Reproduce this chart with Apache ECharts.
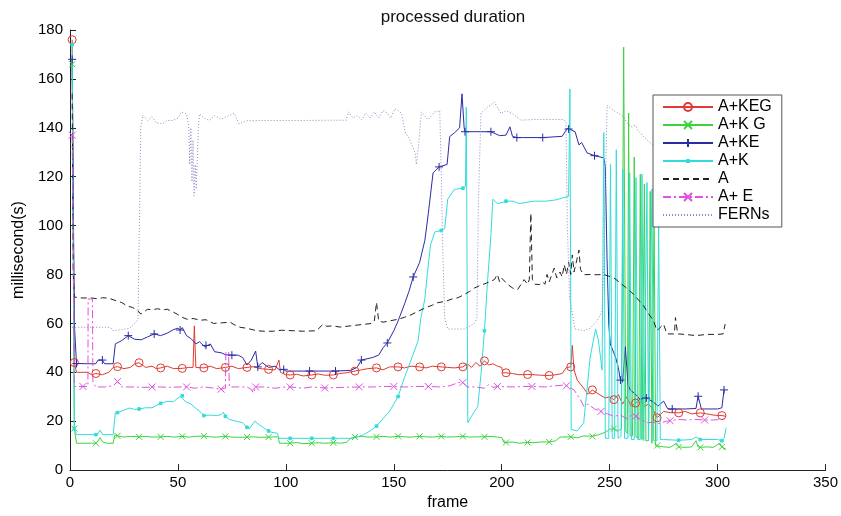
<!DOCTYPE html>
<html>
<head>
<meta charset="utf-8">
<title>processed duration</title>
<script src="https://cdn.jsdelivr.net/npm/echarts@6/dist/echarts.min.js"></script>
<style>
  html, body { margin: 0; padding: 0; background: #fff; }
  #chart { width: 841px; height: 516px; }
</style>
</head>
<body>
<div id="chart"></div>
<script>
// Axis ticks
const xTicks = [0, 50, 100, 150, 200, 250, 300, 350];
const yTicks = [0, 20, 40, 60, 80, 100, 120, 140, 160, 180];

// Series names
const names = ['A+KEG', 'A+K G', 'A+KE', 'A+K', 'A', 'A+ E', 'FERNs'];

// Per-frame processing time, [frame, milliseconds]
const keg = [[1,176],[2,44],[3,40],[8,40],[10,39],[12,39.5],[15,39],[18,40],[20,42],[22,42.3],[25,41.5],[28,42],[30,43.5],[32,43.9],[35,42],[38,42.5],[40,41.5],[42,41.8],[45,42.5],[48,41.5],[52,41.6],[55,42],[57,42],[57.6,59],[58.3,42],[62,41.8],[65,42.5],[68,41.5],[72,42],[75,42.5],[78,41.5],[82,42],[85,42.3],[88,41.5],[92,41.2],[95,41],[96.8,45],[97.5,40],[100,39],[102,38.9],[105,39.2],[108,38.5],[112,38.9],[115,39.3],[118,38.8],[122,38.9],[125,39.5],[128,39.8],[132,40.5],[135,41],[138,41.5],[142,41.8],[145,41],[148,42.2],[152,42.2],[155,41.8],[158,42.5],[162,42.2],[165,41.8],[168,42.5],[172,42.2],[175,42],[178,41.8],[182,42.2],[184,43.5],[186,42],[188,44],[190,42.5],[192,44.7],[194,43],[196,43.5],[198,42.5],[200,42],[200.5,39.8],[202,39.8],[205,39.5],[208,39],[212,39.1],[215,39],[218,38.8],[222,38.7],[225,39],[228,39.5],[230,42],[232,42.2],[232.7,51],[233.5,41],[235,36.8],[238,33.5],[240,31],[242,32.8],[245,31],[248,29.5],[250,30],[252,28.8],[254,31],[256,27],[258,30],[260,26],[262,27.4],[264,29],[266,26],[268,27],[270,25],[272,21.4],[275,24],[278,23.5],[282,23.4],[285,24],[288,23],[292,23.4],[295,23],[298,22.5],[302,22.3],[304,22]];

const kg = [[1,166],[2,17],[3,11],[10,11],[12,11],[13,12],[14,13.3],[15,11.5],[17,11],[20,11],[20.7,14.3],[22,14],[25,13.5],[28,13.8],[32,13.6],[35,13.8],[38,13.5],[42,13.6],[45,13.8],[48,13.5],[52,13.8],[55,13.5],[58,13.8],[62,13.9],[65,13.6],[68,13.5],[72,13.8],[75,13.5],[78,13.4],[82,13.5],[85,13.6],[88,13.4],[92,13.5],[95,13.6],[96.5,13.5],[97,11],[102,11],[105,11.3],[108,10.8],[112,11],[115,11.2],[118,11],[122,11.2],[125,11],[128,11.3],[130,13],[132,13.5],[135,13.8],[138,13.5],[142,13.6],[145,13.8],[148,13.5],[152,13.8],[155,13.6],[158,13.5],[162,13.8],[165,13.6],[168,13.5],[172,13.8],[175,13.5],[178,13.6],[182,13.8],[185,13.5],[188,13.6],[192,13.6],[195,13.8],[198,13.5],[200,13.3],[201,11.3],[202,11.3],[205,11.5],[208,11],[212,11.3],[215,11.2],[218,11.5],[222,11.5],[225,12],[227,13.5],[232,13.6],[235,13.2],[238,14],[242,13.8],[245,14.5],[248,15.5],[250,16.7],[252,17],[254,16],[255.5,17],[256.5,173],[257.5,16],[258.2,15],[258.8,146],[259.5,14],[260.6,14],[261.4,128],[262.2,13.5],[263.5,13],[264.2,121],[265,12.5],[265.4,12.5],[266.1,117],[266.8,12],[268,12],[268.8,114],[269.6,11],[270,11],[270.6,105],[271.3,10],[272,10],[275,9.5],[278,9.3],[281,11],[282,9.5],[285,9.3],[288,9.5],[290,12],[291,9.5],[292,9.3],[295,9.5],[298,9.3],[301,11],[302,9.5],[304,8.5]];

const ke = [[1,168],[2,60],[3,43.6],[8,43.5],[12,43.5],[13,45],[15,45],[16,43.5],[20,43.5],[21,51.6],[24,53],[27,55],[30,53.5],[33,53.3],[36,54.5],[39,55.7],[42,55],[45,56],[48,57.5],[50,58],[51,57.3],[52,58.3],[54,55],[56,53.8],[58.4,51.6],[60,52.5],[62.5,50.3],[63,51],[65,51.6],[67,48.4],[70,48],[72,47.2],[75,47],[78,47],[80,46],[82,43],[84,45],[86,48.7],[87,42.2],[89,44],[92,42],[95,42.5],[97,41],[99,41.2],[100,40.5],[111,40.5],[123,40.5],[130,40.8],[133,42],[135,45],[140,46],[143,47],[145,50],[147,52],[150,57],[152,61],[155,68],[157,73],[159,79],[162,85],[164.4,94],[166,105],[168.2,121.6],[171,124],[174.7,125],[175.9,136.4],[178.2,138],[180.5,140],[181.6,153.9],[182.6,140],[183,138.4],[195,138.4],[199,136.8],[202,137],[203.8,140.4],[205,136.5],[207,136],[210,136],[219,136],[228,136.5],[230.4,139.8],[231,139.5],[234,138.4],[235.8,133],[237,134],[239.6,129.7],[243,128.6],[247.3,127.7],[248,124],[248.8,86.7],[249.6,59.7],[250.3,51.6],[252.7,46.3],[254,42],[255,36.8],[256,36],[257.3,50.4],[258.5,35],[259.5,32.8],[262,31],[264,29],[267,29.5],[270,28],[272.4,26.2],[275,28.2],[277,25],[279,25],[285,25],[290,25.2],[291,30.2],[292.5,25],[300,25],[302,25.5],[303,32.8]];

const k = [[1,174],[2,17],[3,14.5],[12,14.5],[13,15],[14,16.4],[15,14.5],[20,14.5],[21,23.4],[22,23.5],[25,24.5],[27.6,25.4],[30,24.8],[32,25],[35,25.5],[38,25.5],[42,27.3],[45,28.1],[48,28],[50,29.5],[51.4,30.1],[52,30.4],[53.5,28],[56,27],[58,25.5],[60.9,23.4],[62,22.3],[65,22.5],[68,22.3],[70,22.7],[71,23.7],[72,22],[73.9,20.7],[77,20],[80,19.4],[82,17.5],[83,16.8],[85.6,20],[87.6,18.6],[90.6,16.8],[92,16],[93.6,15.4],[96,15.1],[96.8,13],[102,13],[112,13],[122,13],[130,13],[133,13.5],[136,14.5],[139,16],[142,18],[145,21],[148,24],[150,27],[152,30.1],[155,38],[158,45],[161.3,53],[162.5,62],[164.4,70],[165.5,80],[167,92],[169,97.4],[172,98],[173.6,98.7],[175,110.8],[178,114.8],[182,115.3],[183.2,116],[183.6,148.5],[184.3,19.4],[186,22],[188.9,26],[190.5,40],[192,57],[193.5,78],[195,96],[195.9,110.8],[198,109],[200.5,109.5],[202,110],[205.3,110],[208,109],[211.5,109.5],[215,110],[220.7,110],[225,110.5],[228.9,111.5],[231,112],[231.6,155.9],[232.2,16.7],[235,16],[238,19.4],[241,46.3],[243.5,57.7],[244.8,53],[246.5,40.9],[247.3,138],[248,13],[249.6,13],[250.4,125],[251.2,13],[252.3,13],[253.1,131],[253.9,13],[255.3,14],[256.1,123],[256.9,13],[258.5,13],[259.3,121.6],[260.1,12.5],[261.4,12.5],[262.2,119.6],[263,12.5],[264.2,12.5],[265,121],[265.8,12],[266.5,12],[267.3,117.6],[268,12],[268.8,12],[269.6,115],[270.4,12],[271.9,12],[272.7,101],[273.5,12.5],[275,12.5],[282,12.2],[288,12.5],[290,13.5],[292,12.5],[300,12.5],[302,12],[303,13],[304,17.3]];

const a = [[1,154],[1.5,81],[2,70.8],[5,70.4],[10,70.4],[13,70],[15,70.5],[18,70.3],[21.5,69.2],[24,68.5],[26.6,67.1],[29,66.5],[31.3,65.4],[32.8,63.8],[34,64.5],[35.9,65.8],[38,65.5],[40.5,66],[43,65.5],[45,65.8],[47,65],[49.6,63.8],[52,62.5],[54.2,61.7],[57,62],[60.4,61.3],[63,61.5],[66.5,60],[70,60.2],[74.2,60.5],[76,59.5],[78.8,58.4],[82,58],[86.5,57],[90,56.8],[94.2,56.8],[98,57.2],[103.4,57],[108,56.8],[114.2,57],[117.3,59.7],[119,58.8],[121.8,59],[125,58.5],[130,59],[135,59.5],[140,60],[141,61],[142,68.6],[143,61],[145,60.5],[148,61],[152,61.7],[155,62.5],[158,63.5],[161.3,65],[165,66.5],[168,67.5],[170.5,68.5],[174,69],[177,70],[179.7,70.5],[182,71.5],[185,73],[187.4,74.5],[190,75.5],[193,76.5],[196.6,77.9],[198,80],[199,77],[200,78.5],[202.8,75.9],[205,74.5],[207.4,73.9],[209,76],[210.4,77.9],[212,76],[212.8,78],[213.5,105],[214.2,78],[215.5,76],[217.6,75.9],[219,77],[220,76],[221,80],[222,77],[224.3,82.6],[225.5,78.6],[227,81],[228,79],[229,84],[230,80],[231,85],[232,80],[232.7,88],[233.5,81],[234.8,86],[235.8,90],[236.5,82],[238,79.9],[241,80],[244.2,79.9],[247.3,80],[250,79.2],[252,78.6],[255,76.5],[259.6,73.2],[262,71],[265.8,67.1],[268,64],[270.4,61],[271.9,57],[273,58],[275,59.7],[276.5,55.7],[280,55.7],[280.5,62.4],[281.5,55.7],[285,55.5],[290,55],[295,55.5],[300,55.5],[302.6,55.7],[303.5,59.7]];

const ae = [[1,137],[2,34.2],[6,34.2],[8.3,34.2],[8.4,70],[10.4,70],[10.6,36],[12,34],[16,34],[20,34.5],[22,36.2],[24,34],[30,34],[34,33.8],[38,34],[42,34],[46,33.8],[50,34],[54,34],[58,33.5],[62,34],[66,33.6],[70,33.1],[72,33.5],[72.2,48.3],[73.5,48.3],[73.8,34],[78,34],[82,34],[84,33],[85,31.5],[86,34],[90,34],[95,33.5],[100,34],[102,34],[108,33.5],[112,34],[118,33.6],[125,33.8],[134,34],[140,34],[145,34.2],[150,34.2],[155,34],[160,34.2],[166,34.2],[172,34],[176,34.5],[180,35.8],[182,35.8],[184,34],[188,34],[192,33.5],[194,35],[196,33.8],[198,34.2],[205,34],[210,34.2],[214,34.2],[220,34],[225,34.5],[228.9,34.8],[230,34.5],[233.5,32.8],[236.5,28.8],[238,26.1],[240,27],[243,25],[246,24],[249,23],[252,22],[255,22.5],[258,21],[261,23],[262,22],[264,21],[267.3,19.4],[270,19.5],[272.5,19],[276.5,20],[278,20.2],[282,20.7],[286,20.5],[290,20.7],[294,20.5],[298,20.5],[302,20.7],[304,20.7]];

const ferns = [[1,58.4],[5,58.4],[10,58.4],[15,58.4],[18.7,58.4],[20,57],[24,57.5],[27.6,58],[30,60],[31.5,61.7],[32.3,62],[32.8,140.4],[33.8,145.1],[36,143],[38,144.5],[40,142],[43,141.7],[45,143],[47.6,143],[50,144],[51.6,146.5],[54,145.7],[55,141],[55.5,125],[56,140],[56.5,118],[57,135],[57.5,112.2],[58,125],[58.5,115],[59.5,140],[60,145.7],[62,144],[64.5,143],[67,145],[70,143.5],[73.7,145],[76,146],[78.3,141.7],[82,142.9],[90,143],[100,143],[110,143],[120,143.1],[128,143.1],[129,146.5],[131,144],[133,145],[135.2,143.3],[137,146],[139,144],[141,146.5],[143,144],[145,147],[147,146],[148.5,144],[150.5,147.8],[152,147],[153.6,146],[155.2,138.4],[157.4,135],[159.9,129.7],[160.5,125],[161.5,133],[162.8,146.5],[165.9,143.3],[168.9,146.5],[171.3,147],[172,121.6],[172.7,90],[173.6,62],[175,57.7],[177,57.7],[182.8,57.7],[187,59.7],[188.5,62],[189.2,110],[190.4,146],[193.5,148.5],[196.6,150.5],[199.7,145.8],[202,147],[204.9,145.8],[208.9,143.1],[215,143.4],[225,143.4],[228.9,143.4],[229.8,142],[230.4,100],[231.5,70],[234,57.7],[238,57],[241,58],[244.2,61],[246.5,65],[247.5,90],[248.8,149.2],[252,147],[254,146],[256.5,144.5],[258,142],[260,140.4],[262,141],[263,139],[265.8,136.4],[267.3,135],[270,133],[275,130]];

const FONT = '"Liberation Sans", Arial, Helvetica, sans-serif';

// Plot markers every `period` frames, starting at `offset`, plus the first sample.
function markerSize(size, period, offset) {
  return function (val, params) {
    const r = ((val[0] - offset) % period + period) % period;
    return (params.dataIndex === 0 || Math.abs(r) < 1e-6) ? size : 0;
  };
}

function lineSeries(name, data, color, dash, marker) {
  const s = {
    name: name,
    type: 'line',
    data: data,
    showAllSymbol: true,
    lineStyle: { color: color, width: 1, type: dash },
    itemStyle: { color: color, borderColor: color, borderWidth: 1 },
    emphasis: { disabled: true },
    z: 2
  };
  if (marker) {
    s.symbol = marker.symbol;
    s.symbolSize = markerSize(marker.size, marker.period, marker.offset);
    if (marker.hollow) s.itemStyle.color = 'rgba(255,255,255,0)';
  } else {
    s.symbol = 'circle';
    s.showSymbol = false;
  }
  return s;
}

// Marker shapes: open circle, diagonal cross, plus, small dot
const CROSS = 'path://M0,0L10,10M10,0L0,10';
const PLUS = 'path://M5,0L5,10M0,5L10,5';
const DOT = 'path://M0,0M10,10M3.8,3.8h2.4v2.4h-2.4z';

const hiddenIcon = { color: 'rgba(0,0,0,0)', borderColor: 'rgba(0,0,0,0)' };

const chart = echarts.init(document.getElementById('chart'), null, { renderer: 'canvas' });
chart.setOption({
  animation: false,
  backgroundColor: '#ffffff',
  title: {
    text: 'processed duration',
    left: 448,
    textAlign: 'center',
    top: 4,
    textStyle: { fontFamily: FONT, fontSize: 17, fontWeight: 'normal', color: '#111' }
  },
  grid: { left: 70, right: 11, top: 30, bottom: 38, containLabel: false },
  legend: {
    orient: 'vertical',
    left: 653,
    top: 95,
    padding: [4, 10, 4, 9],
    itemWidth: 50,
    itemHeight: 10,
    itemGap: 2,
    backgroundColor: '#ffffff',
    borderColor: '#555',
    borderWidth: 1,
    borderRadius: 0,
    textStyle: { fontFamily: FONT, fontSize: 16, color: '#000', lineHeight: 16 },
    data: [
      names[0], names[1], names[2], names[3],
      { name: names[4], itemStyle: hiddenIcon },
      names[5],
      { name: names[6], itemStyle: hiddenIcon }
    ]
  },
  xAxis: {
    type: 'value',
    min: xTicks[0],
    max: xTicks[xTicks.length - 1],
    interval: xTicks[1] - xTicks[0],
    name: 'frame',
    nameLocation: 'middle',
    nameGap: 22,
    nameTextStyle: { fontFamily: FONT, fontSize: 16, color: '#000' },
    axisLine: { show: true, lineStyle: { color: '#222', width: 1 } },
    axisTick: { show: true, inside: true, length: 6, lineStyle: { color: '#222' } },
    axisLabel: { fontFamily: FONT, fontSize: 15, color: '#000', margin: 5 },
    splitLine: { show: false }
  },
  yAxis: {
    type: 'value',
    min: yTicks[0],
    max: yTicks[yTicks.length - 1],
    interval: yTicks[1] - yTicks[0],
    name: 'millisecond(s)',
    nameLocation: 'middle',
    nameGap: 38,
    nameTextStyle: { fontFamily: FONT, fontSize: 16, color: '#000' },
    axisLine: { show: true, lineStyle: { color: '#222', width: 1 } },
    axisTick: { show: true, inside: true, length: 6, lineStyle: { color: '#222' } },
    axisLabel: { fontFamily: FONT, fontSize: 15, color: '#000', margin: 7 },
    splitLine: { show: false }
  },
  series: [
    lineSeries(names[0], keg, '#e03a32', 'solid', { symbol: 'circle', size: 8, period: 10, offset: 2, hollow: true }),
    lineSeries(names[1], kg, '#3fd23f', 'solid', { symbol: CROSS, size: 6, period: 10, offset: 2 }),
    lineSeries(names[2], ke, '#2b2ba6', 'solid', { symbol: PLUS, size: 8, period: 12, offset: 3 }),
    lineSeries(names[3], k, '#33dcdc', 'solid', { symbol: DOT, size: 11, period: 10, offset: 2 }),
    lineSeries(names[4], a, '#222222', [6, 4], null),
    lineSeries(names[5], ae, '#e052e0', [8, 3, 2, 3], { symbol: CROSS, size: 7, period: 16, offset: 6 }),
    lineSeries(names[6], ferns, '#8a8ac4', [1, 2], null)
  ]
});
</script>
</body>
</html>
